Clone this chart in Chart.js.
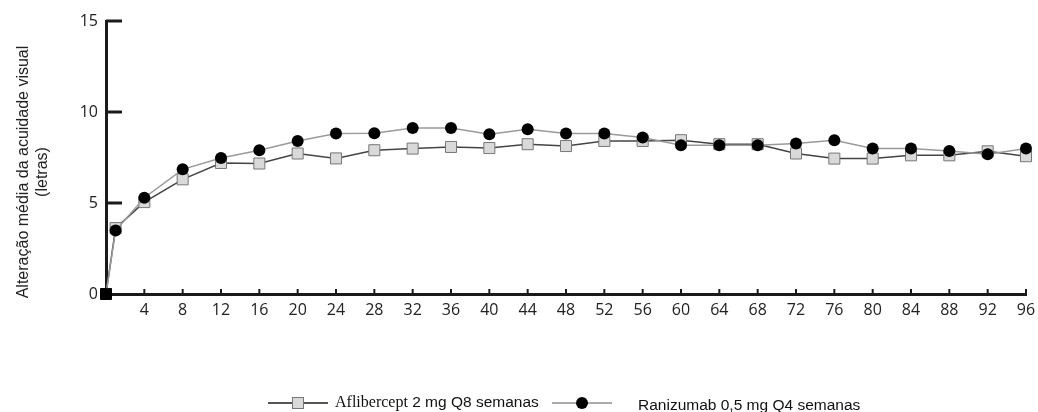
<!DOCTYPE html>
<html>
<head>
<meta charset="utf-8">
<script src="https://cdn.jsdelivr.net/npm/chart.js@4.4.1/dist/chart.umd.min.js"></script>
<style>
  html, body { margin: 0; padding: 0; background: #fff; }
  #wrap { position: relative; width: 1038px; height: 412px; overflow: hidden; }
  #c { position: absolute; left: 0; top: 0; }
  #ytitle {
    position: absolute; left: -118px; top: 152.5px; width: 300px; height: 38px;
    transform: rotate(-90deg); text-align: center;
    font-family: "Liberation Sans", Arial, sans-serif; font-size: 16px; line-height: 19px; color: #222;
  }
  .leg { position: absolute; font-family: "Liberation Sans", Arial, sans-serif; font-size: 15.5px; color: #111; white-space: nowrap; }
  .serif { font-family: "Liberation Serif", "Times New Roman", serif; font-size: 16px; }
  svg { position: absolute; }
</style>
</head>
<body>
<div id="wrap">
  <canvas id="c" width="1038" height="412"></canvas>
  <div id="ytitle">Alteração média da acuidade visual<br>(letras)</div>
  <svg style="left:266px; top:395px" width="64" height="16">
    <line x1="2" y1="8" x2="62" y2="8" stroke="#555" stroke-width="2"/>
    <rect x="26.5" y="2.5" width="11" height="11" fill="#d9d9d9" stroke="#777" stroke-width="1"/>
  </svg>
  <div class="leg" style="left:335px; top:393px"><span class="serif">Aflibercept</span> 2 mg Q8 semanas</div>
  <svg style="left:550px; top:395px" width="64" height="16">
    <line x1="2" y1="8" x2="62" y2="8" stroke="#aaa" stroke-width="2"/>
    <circle cx="32" cy="8" r="6" fill="#000"/>
  </svg>
  <div class="leg" style="left:638px; top:396px">Ranizumab 0,5 mg Q4 semanas</div>
</div>
<script>
const weeks = [0, 1, 4, 8, 12, 16, 20, 24, 28, 32, 36, 40, 44, 48, 52, 56, 60, 64, 68, 72, 76, 80, 84, 88, 92, 96];
const aflibercept = [0, 3.62, 5.05, 6.30, 7.20, 7.17, 7.72, 7.45, 7.90, 7.99, 8.08, 8.02, 8.23, 8.13, 8.41, 8.41, 8.45, 8.23, 8.23, 7.72, 7.44, 7.44, 7.62, 7.62, 7.84, 7.57];
const ranibizumab = [0, 3.49, 5.29, 6.85, 7.47, 7.90, 8.41, 8.82, 8.83, 9.12, 9.12, 8.78, 9.05, 8.82, 8.82, 8.60, 8.17, 8.17, 8.17, 8.27, 8.45, 7.99, 7.99, 7.86, 7.68, 7.99];
const xTickStep = 4;
const yTickValues = [0, 5, 10, 15];
const seriesNames = ["Aflibercept 2 mg Q8 semanas", "Ranizumab 0,5 mg Q4 semanas"];

const toPts = (vals) => weeks.map((w, i) => ({ x: w, y: vals[i] }));

const innerTicks = {
  id: 'innerTicks',
  beforeDatasetsDraw(chart) {
    const ctx = chart.ctx;
    const xs = chart.scales.x, ys = chart.scales.y;
    const x0 = xs.getPixelForValue(0);
    const yb = ys.getPixelForValue(0);
    ctx.save();
    ctx.strokeStyle = '#1a1a1a';
    ctx.lineWidth = 3;
    ys.ticks.forEach(t => {
      if (t.value === 0) return;
      const y = ys.getPixelForValue(t.value);
      ctx.beginPath();
      ctx.moveTo(x0, y);
      ctx.lineTo(x0 + 16, y);
      ctx.stroke();
    });
    ctx.lineWidth = 2;
    xs.ticks.forEach(t => {
      if (t.value === 0) return;
      const x = xs.getPixelForValue(t.value);
      ctx.beginPath();
      ctx.moveTo(x, yb);
      ctx.lineTo(x, yb - 5);
      ctx.stroke();
    });
    ctx.restore();
  }
};

new Chart(document.getElementById('c'), {
  type: 'line',
  data: {
    datasets: [
      {
        label: seriesNames[1],
        data: toPts(ranibizumab),
        borderColor: '#9a9a9a',
        borderWidth: 1.5,
        pointStyle: 'circle',
        pointRadius: 6,
        pointBackgroundColor: '#000',
        pointBorderColor: '#000',
        pointBorderWidth: 0,
        order: 0,
        clip: false
      },
      {
        label: seriesNames[0],
        data: toPts(aflibercept),
        borderColor: '#444',
        borderWidth: 1.5,
        pointStyle: 'rect',
        pointRadius: 7.8,
        pointBackgroundColor: weeks.map(w => w === 0 ? '#000' : '#d9d9d9'),
        pointBorderColor: weeks.map(w => w === 0 ? '#000' : '#777'),
        pointBorderWidth: 1,
        order: 1,
        clip: false
      }
    ]
  },
  options: {
    responsive: false,
    animation: false,
    devicePixelRatio: 1,
    layout: { padding: { left: 0, right: 12, top: 21, bottom: 0 } },
    plugins: { legend: { display: false }, tooltip: { enabled: false } },
    scales: {
      x: {
        type: 'linear',
        min: 0, max: 96,
        afterFit: (s) => { s.height = 118; s.paddingRight = 0; s.paddingLeft = 0; },
        grid: { display: false, drawTicks: false },
        border: { display: true, color: '#1a1a1a', width: 3 },
        ticks: {
          stepSize: xTickStep, autoSkip: false, maxRotation: 0, padding: 7,
          color: '#222', font: { family: '"Open Sans", sans-serif', size: 16 },
          callback: (v) => v === 0 ? '' : String(v)
        }
      },
      y: {
        min: 0, max: 15,
        afterFit: (s) => { s.width = 106; },
        afterBuildTicks: (s) => { s.ticks = yTickValues.map(v => ({ value: v })); },
        grid: { display: false, drawTicks: false },
        border: { display: true, color: '#1a1a1a', width: 3 },
        ticks: {
          padding: 8,
          color: '#222', font: { family: '"Open Sans", sans-serif', size: 16 }
        }
      }
    }
  },
  plugins: [innerTicks]
});
</script>
</body>
</html>
